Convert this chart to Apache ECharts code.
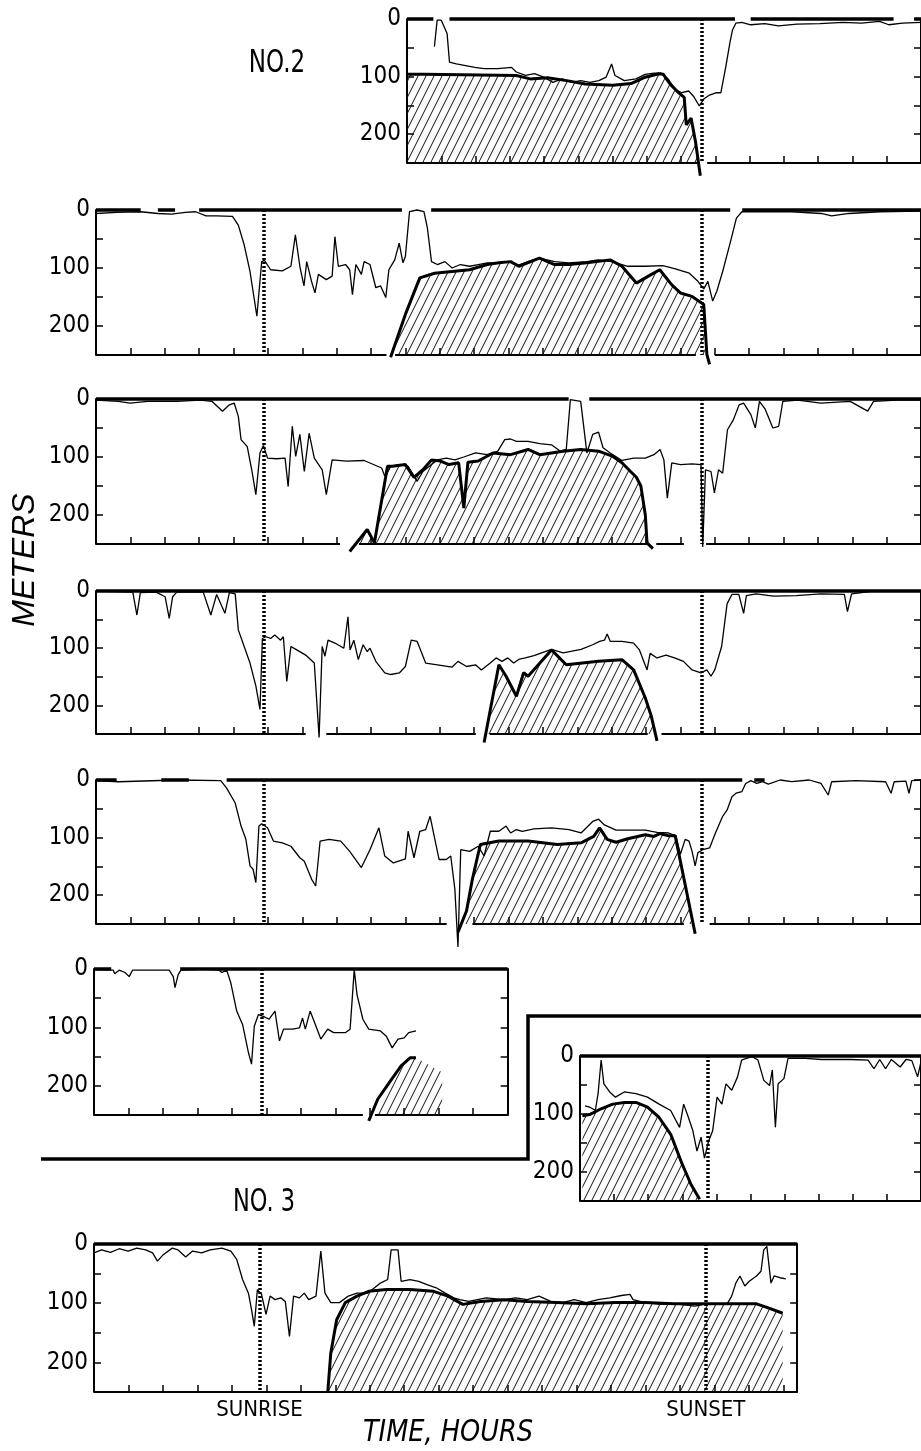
<!DOCTYPE html>
<html>
<head>
<meta charset="utf-8">
<script src="https://cdn.jsdelivr.net/npm/echarts/dist/echarts.min.js"></script>
<style>
  html, body { margin: 0; background: #fff; }
  #chart { width: 921px; height: 1451px; }
</style>
</head>
<body>
<div id="chart"></div>
<script>
// depth records, [hour, metres]; thin = trace, heavy = upper edge of hatched layer
var thinA = [[9.8,48],[9.88,2],[10.0,2],[10.17,25],[10.24,75],[10.44,78],[10.71,81],[10.98,84],[11.25,86],[11.65,86],[12.05,84],[12.19,92],[12.46,98],[12.72,95],[12.99,101],[13.26,110],[13.53,104],[13.8,110],[14.07,107],[14.34,110],[14.6,107],[14.81,101],[14.97,78],[15.07,98],[15.34,107],[15.68,104],[15.95,96],[16.21,94],[16.42,94],[16.62,104],[16.82,122],[17.02,128],[17.22,125],[17.36,134],[17.53,151],[17.66,139],[17.83,132],[18.03,128],[18.16,128],[18.3,84],[18.43,39],[18.5,19],[18.6,7],[18.77,6],[19.03,10],[19.44,8],[19.84,12],[20.38,9],[21.05,8],[21.72,6],[22.26,7],[22.79,4],[23.06,10],[23.46,7],[24,6]];
var heavyA = [[9.0,96],[9.5,96],[12.19,98],[12.6,104],[13.1,102],[13.66,107],[14.2,113],[15.0,115],[15.54,112],[15.95,101],[16.35,95],[16.48,96],[16.68,113],[16.89,126],[17.09,136],[17.15,184],[17.29,172],[17.42,213],[17.56,272]];

var thinB = [[0,6],[0.6,4],[1.3,3],[1.8,6],[2.2,7],[2.6,4],[2.9,3],[3.2,10],[3.5,10],[3.97,11],[4.14,26],[4.31,60],[4.48,106],[4.68,183],[4.82,89],[4.9,87],[5.08,103],[5.42,105],[5.67,97],[5.8,43],[5.93,97],[6.05,131],[6.13,89],[6.27,123],[6.37,143],[6.47,111],[6.7,120],[6.87,114],[6.95,46],[7.05,97],[7.26,94],[7.38,103],[7.46,146],[7.56,94],[7.72,111],[7.8,89],[7.97,94],[8.14,134],[8.28,131],[8.43,151],[8.52,103],[8.69,86],[8.82,57],[8.93,91],[9.0,80],[9.12,3],[9.34,0],[9.54,3],[9.64,31],[9.76,89],[9.93,94],[10.15,89],[10.36,100],[10.6,94],[10.87,97],[11.12,94],[11.38,91],[11.72,91],[12.06,89],[12.3,95],[12.57,89],[12.9,83],[13.34,89],[13.76,91],[14.28,89],[14.6,86],[15.0,89],[15.47,97],[15.98,97],[16.49,96],[16.83,101],[17.26,109],[17.51,123],[17.68,136],[17.8,123],[17.94,157],[18.06,140],[18.23,106],[18.46,54],[18.63,14],[18.79,3],[19.4,3],[20.24,3],[21.1,6],[21.4,10],[21.9,6],[22.8,3],[24,2]];
var heavyB = [[8.57,254],[9.0,180],[9.42,117],[9.85,109],[10.36,106],[10.87,103],[11.38,94],[11.72,91],[12.06,89],[12.3,97],[12.9,83],[13.34,94],[13.76,94],[14.28,91],[14.96,86],[15.3,97],[15.72,126],[16.07,114],[16.4,103],[16.75,129],[17.0,143],[17.34,149],[17.68,163],[17.77,249],[17.85,266]];

var thinC = [[0,2],[0.65,4],[0.99,7],[1.5,4],[2.35,4],[3.03,2],[3.37,4],[3.68,21],[3.88,10],[4.02,7],[4.14,30],[4.22,70],[4.4,82],[4.53,122],[4.65,165],[4.77,93],[4.87,80],[4.99,102],[5.25,103],[5.5,102],[5.59,151],[5.71,47],[5.81,99],[5.93,61],[6.06,125],[6.2,59],[6.35,102],[6.58,122],[6.7,165],[6.87,105],[7.29,107],[7.8,106],[8.31,119],[8.4,133],[8.57,116],[8.83,113],[9.08,116],[9.34,142],[9.51,125],[9.76,113],[9.93,105],[10.19,102],[10.44,105],[10.7,100],[11.04,93],[11.38,96],[11.69,90],[11.89,70],[12.06,69],[12.23,73],[12.57,73],[12.91,77],[13.25,79],[13.51,90],[13.68,87],[13.8,1],[14.1,4],[14.28,93],[14.45,61],[14.62,57],[14.75,84],[14.96,93],[15.3,106],[15.64,102],[15.98,102],[16.23,96],[16.41,87],[16.52,105],[16.62,171],[16.75,110],[17.0,113],[17.34,112],[17.6,113],[17.65,255],[17.73,122],[17.89,125],[17.99,162],[18.11,122],[18.23,128],[18.37,53],[18.54,36],[18.71,10],[18.84,7],[19.05,27],[19.18,50],[19.3,4],[19.47,18],[19.69,50],[19.86,47],[19.98,4],[20.41,2],[21.09,7],[21.94,4],[22.45,21],[22.62,4],[23.3,2],[24,2]];
var heavyC = [[7.38,263],[7.89,225],[8.1,248],[8.48,116],[8.62,116],[9.0,113],[9.25,135],[9.51,122],[9.76,105],[10.02,107],[10.27,113],[10.55,110],[10.7,188],[10.82,109],[11.12,107],[11.55,93],[12.06,96],[12.57,87],[12.91,96],[13.59,90],[14.1,87],[14.62,90],[15.04,99],[15.3,110],[15.55,125],[15.72,135],[15.85,150],[15.98,200],[16.03,248],[16.2,258]];

var thinD = [[0,0],[1.07,2],[1.19,42],[1.29,3],[1.75,2],[2.01,10],[2.13,48],[2.23,10],[2.35,2],[3.12,2],[3.34,42],[3.51,6],[3.75,39],[3.88,3],[4.05,5],[4.14,68],[4.31,97],[4.48,126],[4.65,166],[4.77,207],[4.84,83],[4.94,80],[5.08,83],[5.2,77],[5.37,86],[5.45,80],[5.55,158],[5.67,97],[5.84,103],[6.1,112],[6.35,126],[6.49,256],[6.58,97],[6.66,114],[6.75,86],[6.95,91],[7.21,100],[7.33,45],[7.39,103],[7.5,86],[7.63,120],[7.77,94],[7.89,106],[7.97,100],[8.14,123],[8.4,143],[8.57,146],[8.83,143],[9.0,132],[9.17,86],[9.34,88],[9.59,126],[9.93,129],[10.36,133],[10.53,123],[10.78,132],[11.04,129],[11.21,138],[11.47,126],[11.64,117],[11.81,123],[11.98,117],[12.15,126],[12.32,119],[12.49,117],[12.74,113],[13.25,102],[13.59,108],[14.11,102],[14.45,94],[14.65,88],[14.79,86],[14.87,75],[14.96,88],[15.3,88],[15.64,91],[15.81,103],[16.03,138],[16.12,109],[16.32,117],[16.58,112],[16.83,117],[17.09,123],[17.34,138],[17.6,143],[17.77,138],[17.89,149],[18.0,138],[18.2,97],[18.36,22],[18.5,6],[18.7,6],[18.84,39],[18.92,8],[19.2,5],[19.71,9],[20.37,8],[21.09,5],[21.77,6],[21.86,36],[21.98,5],[22.62,0],[24,0]];
var heavyD = [[11.29,265],[11.72,129],[11.93,149],[12.23,184],[12.44,143],[12.57,149],[13.25,103],[13.68,129],[14.62,123],[15.3,120],[15.64,138],[15.98,187],[16.15,218],[16.32,262]];

var thinE = [[0,1],[0.65,3],[2.35,0],[3.63,1],[3.8,14],[4.05,40],[4.22,80],[4.36,103],[4.48,149],[4.57,155],[4.65,178],[4.74,80],[4.82,76],[4.99,83],[5.16,106],[5.42,109],[5.67,115],[5.93,135],[6.06,141],[6.27,172],[6.39,184],[6.52,106],[6.78,103],[7.12,106],[7.38,124],[7.72,152],[7.97,121],[8.23,83],[8.4,132],[8.65,144],[9.0,137],[9.08,89],[9.25,135],[9.42,89],[9.59,86],[9.72,63],[9.85,101],[9.98,138],[10.19,138],[10.32,132],[10.44,190],[10.53,290],[10.61,121],[10.87,124],[11.12,115],[11.29,132],[11.47,89],[11.72,89],[11.93,80],[12.06,92],[12.23,86],[12.4,89],[12.74,85],[13.25,83],[13.76,86],[14.11,92],[14.45,72],[14.62,68],[14.79,78],[15.13,87],[15.64,87],[15.98,87],[16.32,91],[16.66,92],[16.87,97],[17.0,129],[17.14,103],[17.25,106],[17.34,124],[17.43,149],[17.51,126],[17.65,121],[17.85,118],[18.02,92],[18.23,63],[18.36,52],[18.5,29],[18.62,23],[18.79,20],[18.9,6],[19.05,1],[19.22,6],[19.39,3],[19.56,7],[19.9,0],[20.24,3],[20.75,0],[21.09,6],[21.3,26],[21.4,3],[22.11,1],[22.97,3],[23.13,23],[23.22,3],[23.56,2],[23.65,23],[23.73,1],[24,0]];
var heavyE = [[10.53,264],[10.78,227],[10.95,172],[11.18,112],[11.72,106],[12.57,106],[13.42,112],[14.11,109],[14.48,98],[14.65,83],[14.87,103],[15.13,108],[15.47,102],[15.98,95],[16.23,98],[16.4,93],[16.66,97],[16.85,97],[17.43,267]];

var thinF = [[0,1],[0.56,2],[0.6,8],[0.73,2],[0.9,6],[1.02,13],[1.12,2],[1.7,2],[2.18,2],[2.3,13],[2.35,32],[2.44,10],[2.52,2],[3.2,0],[3.63,2],[3.71,6],[3.85,2],[3.97,24],[4.14,72],[4.31,95],[4.48,143],[4.57,163],[4.65,98],[4.77,78],[4.91,81],[5.08,86],[5.25,72],[5.38,123],[5.5,103],[5.76,103],[5.96,101],[6.05,84],[6.13,103],[6.27,72],[6.44,98],[6.58,120],[6.78,103],[6.95,109],[7.29,109],[7.43,103],[7.55,1],[7.63,44],[7.8,86],[7.97,103],[8.31,106],[8.48,115],[8.65,135],[8.82,120],[9.0,118],[9.13,109],[9.34,106]];
var heavyF = [[7.97,260],[8.23,223],[8.57,194],[8.91,166],[9.17,152],[9.34,152]];
var hatchEndF = [[10.1,177]];

var thinG = [[14.15,86],[14.28,88],[14.45,94],[14.53,65],[14.62,7],[14.7,48],[14.87,62],[15.04,71],[15.3,62],[15.64,65],[15.98,71],[16.32,83],[16.66,94],[16.92,123],[17.04,83],[17.18,106],[17.31,129],[17.43,164],[17.55,140],[17.65,176],[17.77,147],[17.89,129],[18.02,71],[18.16,83],[18.28,48],[18.45,59],[18.62,36],[18.74,7],[18.88,4],[19.05,1],[19.22,7],[19.39,42],[19.56,51],[19.64,24],[19.73,123],[19.81,48],[19.98,39],[20.1,4],[20.6,4],[21.09,6],[21.94,6],[22.45,7],[22.62,22],[22.79,6],[22.96,22],[23.13,6],[23.39,19],[23.56,6],[23.73,8],[23.9,36],[24,10]];
var heavyG = [[14.07,103],[14.28,101],[14.62,91],[14.96,83],[15.3,80],[15.64,80],[15.98,88],[16.32,106],[16.66,135],[17.0,187],[17.26,222],[17.51,247]];

var thinH = [[0,15],[0.22,10],[0.48,14],[0.73,8],[0.99,12],[1.24,7],[1.5,10],[1.7,15],[1.84,29],[2.01,18],[2.27,7],[2.44,10],[2.66,22],[2.86,12],[3.12,15],[3.37,10],[3.71,7],[3.97,12],[4.14,26],[4.31,60],[4.48,83],[4.57,111],[4.65,139],[4.74,77],[4.86,85],[4.99,119],[5.11,88],[5.25,94],[5.42,91],[5.55,97],[5.67,156],[5.79,88],[5.96,91],[6.1,83],[6.23,94],[6.44,88],[6.58,12],[6.7,83],[6.87,99],[7.12,99],[7.38,88],[7.63,83],[7.94,83],[8.31,66],[8.52,60],[8.62,10],[8.82,10],[8.91,63],[9.17,60],[9.42,63],[9.68,69],[9.93,74],[10.19,83],[10.44,91],[10.61,94],[10.87,97],[11.38,91],[11.89,94],[12.23,91],[12.57,94],[12.91,88],[13.25,97],[13.59,99],[13.93,94],[14.28,99],[14.62,94],[14.96,91],[15.3,87],[15.55,85],[15.64,94],[15.98,99],[16.49,102],[17.0,102],[17.43,105],[17.68,102],[18.02,102],[18.36,102],[18.5,88],[18.62,66],[18.74,54],[18.88,71],[19.01,63],[19.22,54],[19.35,46],[19.43,10],[19.52,4],[19.64,66],[19.73,54],[19.9,57],[20.07,59]];
var heavyH = [[6.78,251],[6.87,184],[7.04,128],[7.29,99],[7.63,88],[7.97,80],[8.48,77],[9.17,77],[9.85,80],[10.27,88],[10.7,102],[11.21,97],[11.89,94],[12.57,97],[13.42,99],[14.28,101],[15.13,99],[15.98,99],[16.83,101],[17.68,101],[18.54,101],[19.22,101],[19.56,108],[19.98,117]];

// heavy surface line and bottom line, drawn as [from, to] hour pieces
var surfA = [[9,9.77],[10.24,18.57],[19.03,23.2],[23.8,24]];
var surfB = [[0,1.3],[1.8,2.3],[3.0,8.9],[9.75,18.45],[18.8,24]];
var surfC = [[0,13.75],[14.35,24]];
var surfD = [[0,24]];
var surfE = [[0,0.6],[1.9,2.7],[3.8,18.8],[19.15,19.45]];
var surfF = [[0,0.5],[2.5,12]];
var surfG = [[14,24]];
var surfH = [[0,20.4]];

var floorA = [[9,17.49],[17.76,24]];
var floorB = [[0,8.45],[8.7,17.45],[18.0,24]];
var floorC = [[0,7.1],[7.65,16.05],[16.3,17.1],[17.75,24]];
var floorD = [[0,6.1],[6.7,11.05],[11.45,16.05],[16.45,24]];
var floorE = [[0,10.2],[10.95,17.1],[17.85,24]];
var floorF = [[0,7.8],[8.15,12]];
var floorG = [[14,24]];
var floorH = [[0,20.4]];

var xMin = [9, 0, 0, 0, 0, 0, 14, 0];
var xMax = [24, 24, 24, 24, 24, 12, 24, 20.4];
var sunrise = [null, 4.87, 4.87, 4.87, 4.87, 4.87, null, 4.8];
var sunset = [17.6, 17.63, 17.63, 17.63, 17.63, null, 17.75, 17.75];
var depthLabels = [0, 100, 200];
var BOTTOM = 250;

var thins = [thinA, thinB, thinC, thinD, thinE, thinF, thinG, thinH];
var heavies = [heavyA, heavyB, heavyC, heavyD, heavyE, heavyF, heavyG, heavyH];
var surfs = [surfA, surfB, surfC, surfD, surfE, surfF, surfG, surfH];
var floors = [floorA, floorB, floorC, floorD, floorE, floorF, floorG, floorH];

// layout
var HOUR_PX = 34.47;
var boxes = [
  {left: 407, top: 19, height: 144},
  {left: 96, top: 210, height: 145},
  {left: 96, top: 399, height: 145},
  {left: 96, top: 591, height: 143},
  {left: 96, top: 780, height: 144},
  {left: 94, top: 969, height: 146},
  {left: 580, top: 1056, height: 145},
  {left: 94, top: 1244, height: 148}
];
var COND = "'DejaVu Sans Condensed', 'DejaVu Sans', sans-serif";

function hatchCanvas() {
  var c = document.createElement('canvas');
  c.width = 8; c.height = 16;
  var g = c.getContext('2d');
  g.strokeStyle = '#111';
  g.lineWidth = 1;
  g.beginPath();
  for (var k = -1; k <= 1; k++) {
    g.moveTo(k * 8, 16);
    g.lineTo(k * 8 + 8, 0);
  }
  g.stroke();
  return c;
}
var hatch = { image: hatchCanvas(), repeat: 'repeat' };

function pieces(segs, depth) {
  var out = [];
  segs.forEach(function (s) {
    out.push([s[0], depth], [s[1], depth], [s[1], '-']);
  });
  return out;
}

var grids = [], xAxes = [], yAxes = [], series = [];
var black = '#000';

boxes.forEach(function (b, i) {
  grids.push({left: b.left, top: b.top, height: b.height,
    width: (xMax[i] - xMin[i]) * HOUR_PX});
  xAxes.push({
    gridIndex: i, type: 'value', min: xMin[i], max: xMax[i], interval: 1,
    axisLine: {show: false, onZero: false},
    axisTick: {show: true, inside: true, length: 7, lineStyle: {color: black, width: 1.5}},
    axisLabel: {show: false}, splitLine: {show: false}
  });
  ['left', 'right'].forEach(function (pos) {
    yAxes.push({
      gridIndex: i, type: 'value', inverse: true, min: 0, max: 250, interval: 50,
      position: pos,
      axisLine: {show: true, onZero: false, lineStyle: {color: black, width: 2}},
      axisTick: {inside: true, length: 7, lineStyle: {color: black, width: 1.5}},
      axisLabel: {
        show: pos === 'left', color: black, fontFamily: COND, fontSize: 24, margin: 6,
        formatter: function (v) { return depthLabels.indexOf(v) >= 0 ? String(v) : ''; }
      },
      splitLine: {show: false}
    });
  });

  var yi = i * 2;
  var areaData = heavies[i].slice();
  if (i === 5) areaData = areaData.concat(hatchEndF);

  series.push({
    type: 'line', xAxisIndex: i, yAxisIndex: yi, data: areaData,
    symbol: 'none', silent: true, clip: true, z: 1,
    lineStyle: {width: 0},
    areaStyle: {color: hatch, opacity: 1, origin: 'end'}
  });
  series.push({
    type: 'line', xAxisIndex: i, yAxisIndex: yi, data: pieces(surfs[i], 0),
    symbol: 'none', silent: true, clip: false, z: 3,
    lineStyle: {color: black, width: 3.5}
  });
  series.push({
    type: 'line', xAxisIndex: i, yAxisIndex: yi, data: pieces(floors[i], BOTTOM),
    symbol: 'none', silent: true, clip: false, z: 3,
    lineStyle: {color: black, width: 2.2}
  });

  var marks = [];
  if (sunrise[i] != null) marks.push({xAxis: sunrise[i]});
  if (sunset[i] != null) marks.push({xAxis: sunset[i]});
  series.push({
    type: 'line', xAxisIndex: i, yAxisIndex: yi, data: thins[i],
    symbol: 'none', silent: true, clip: false, z: 4,
    lineStyle: {color: black, width: 1.3},
    markLine: {
      symbol: 'none', silent: true, animation: false,
      label: {show: false},
      lineStyle: {color: black, width: 3.5, type: [2, 2]},
      data: marks
    }
  });
  series.push({
    type: 'line', xAxisIndex: i, yAxisIndex: yi, data: heavies[i],
    symbol: 'none', silent: true, clip: false, z: 5,
    lineStyle: {color: black, width: 3}
  });
});

var chart = echarts.init(document.getElementById('chart'), null, {renderer: 'canvas'});
chart.setOption({
  animation: false,
  backgroundColor: '#fff',
  grid: grids, xAxis: xAxes, yAxis: yAxes, series: series
});

var riseX = chart.convertToPixel({xAxisIndex: 7}, sunrise[7]);
var setX = chart.convertToPixel({xAxisIndex: 7}, sunset[7]);

function label(text, x, y, font, sx, rot) {
  return {type: 'text', x: x, y: y, scaleX: sx || 1, rotation: rot || 0, silent: true,
    style: {text: text, fill: black, font: font, align: 'center', verticalAlign: 'middle'}};
}

chart.setOption({
  graphic: [
    label('NO.2', 277, 64, '32px ' + COND, 0.8),
    label('NO. 3', 264, 1203, '32px ' + COND, 0.78),
    {type: 'text', x: 25, y: 560, rotation: Math.PI / 2, silent: true,
      style: {text: 'METERS', fill: black, font: 'italic 32px "Liberation Sans", sans-serif',
        align: 'center', verticalAlign: 'middle'}},
    label('SUNRISE', riseX, 1410, '22px ' + COND),
    label('SUNSET', setX, 1410, '22px ' + COND),
    label('TIME, HOURS', 448, 1433, 'italic 30px ' + COND, 0.95),
    {type: 'polyline', silent: true,
      shape: {points: [[41, 1159], [528, 1159], [528, 1016], [921, 1016]]},
      style: {stroke: black, lineWidth: 3.5, fill: null}}
  ]
});
</script>
</body>
</html>
